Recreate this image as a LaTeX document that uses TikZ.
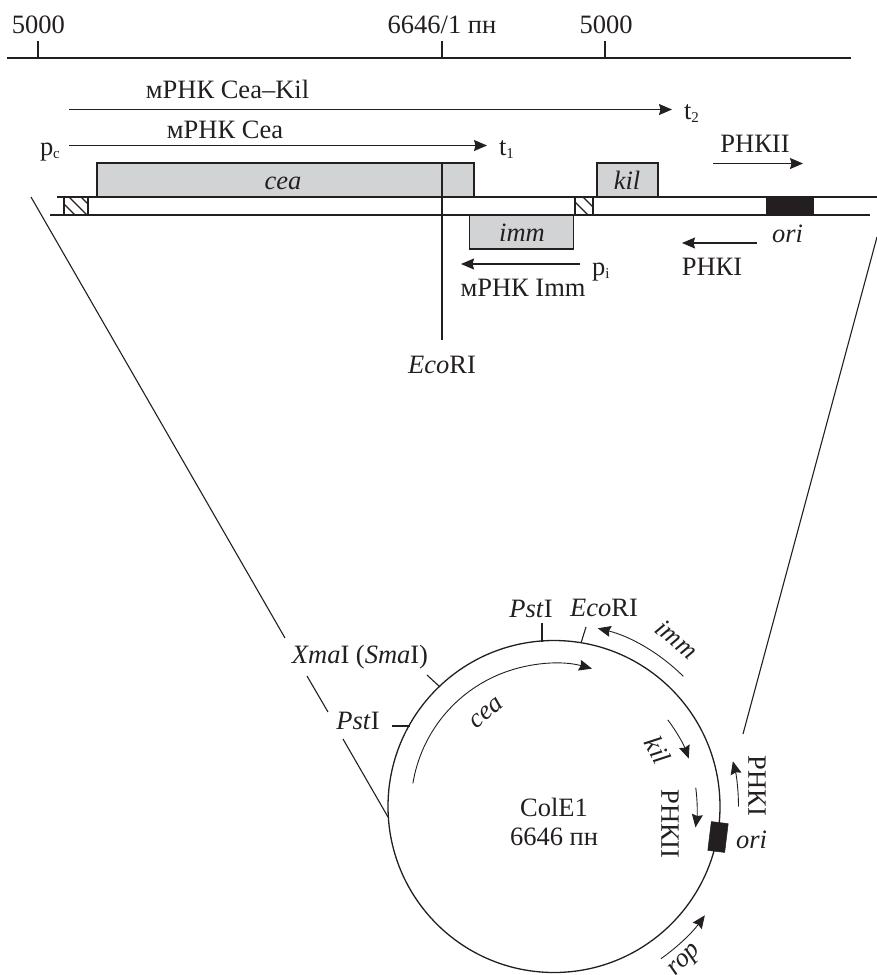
\documentclass[tikz,border=0pt]{standalone}
\usepackage{fontspec}
\setmainfont{Liberation Serif}
\usetikzlibrary{arrows.meta}
\definecolor{ink}{HTML}{231F20}
\definecolor{genegray}{HTML}{D1D3D4}
\newcommand{\lowsub}[1]{\raisebox{-3.5pt}{\fontsize{15}{15}\selectfont #1}}
\tikzset{
  lbl/.style={inner sep=0pt,outer sep=0pt,text=ink,font=\fontsize{26.5}{28}\selectfont,anchor=base},
  lblw/.style={lbl,anchor=base west},
  rlbl/.style={lbl,anchor=center},
  thin line/.style={draw=ink,line width=1.1pt},
  dna/.style={draw=ink,line width=1.5pt},
  arrowline/.style={thin line,-{Stealth[length=13pt,width=11pt,inset=1.5pt]}},
  arcline/.style={arrowline,line width=.9pt},
  genebox/.style={draw=ink,line width=1.3pt,fill=genegray,inner sep=0pt,outer sep=0pt},
  blackbox/.style={draw=ink,fill=ink,inner sep=0pt,outer sep=0pt,line width=.5pt},
  hatchbox/.style={draw=ink,line width=1.1pt,inner sep=0pt,outer sep=0pt,minimum width=#1,minimum height=18pt},
}
\begin{document}
\begin{tikzpicture}[x=1pt,y=-1pt]
\useasboundingbox (0,0) rectangle (877,975);
% scale
\coordinate (sL) at (7,58); \coordinate (sR) at (851,58);
\draw[dna] (sL) -- (sR);
\coordinate (a1) at (38,41); \coordinate (a1b) at (38,58);
\coordinate (a2) at (442,41); \coordinate (a2b) at (442,58);
\coordinate (a3) at (605,41); \coordinate (a3b) at (605,58);
\draw[thin line] (a1) -- (a1b); \draw[thin line] (a2) -- (a2b); \draw[thin line] (a3) -- (a3b);
\node[lbl] (n1) at (38.5,33) {5000};
\node[lbl] (n2) at (442,33) {6646/1 пн};
\node[lbl] (n3) at (606,33) {5000};
% transcripts
\coordinate (ck1) at (69,109.5); \coordinate (ck2) at (672,109.5);
\draw[arrowline] (ck1) -- (ck2);
\node[lbl] (ckl) at (227.5,98) {мРНК Cea–Kil};
\node[lblw] (t2) at (684,119) {t\lowsub{2}};
\coordinate (c1) at (69,145.5); \coordinate (c2) at (487,145.5);
\draw[arrowline] (c1) -- (c2);
\node[lbl] (cl) at (225,138) {мРНК Cea};
\node[lblw] (t1) at (499,155) {t\lowsub{1}};
\node[lblw] (pc) at (40,155) {p\lowsub{c}};
% genes
\node[genebox,minimum width=377pt,minimum height=34pt] (cea) at (285.5,180) {};
\node[lbl] (cean) at (283,189) {\textit{cea}};
\node[genebox,minimum width=61pt,minimum height=34pt] (kil) at (627.5,180) {};
\node[lbl] (kiln) at (627,189) {\textit{kil}};
\node[genebox,minimum width=104pt,minimum height=34pt] (imm) at (521.5,232) {};
\node[lbl] (immn) at (522,241) {\textit{imm}};
% DNA
\coordinate (d1) at (57,197); \coordinate (d2) at (877,197);
\coordinate (d3) at (50,215); \coordinate (d4) at (870,215);
\draw[dna] (d1) -- (d2);
\draw[dna] (d3) -- (d4);
\node[hatchbox=24pt,path picture={\foreach \d in {-7,5,17}{\draw[ink,line width=1.1pt] (path picture bounding box.north west) ++(\d,0) -- ++(30,30);}}] (h1) at (76,206) {};
\node[hatchbox=18pt,path picture={\foreach \d in {-5,8}{\draw[ink,line width=1.1pt] (path picture bounding box.north west) ++(\d,0) -- ++(30,30);}}] (h2) at (584,206) {};
\node[blackbox,minimum width=47pt,minimum height=19pt] (orib) at (790,206) {};
% EcoRI
\coordinate (e1) at (442,163); \coordinate (e2) at (442,340);
\draw[thin line] (e1) -- (e2);
\node[lbl] (ecol) at (442,373) {\textit{Eco}RI};
% imm transcript
\coordinate (i1) at (580,264); \coordinate (i2) at (461,264);
\draw[arrowline] (i1) -- (i2);
\node[lblw] (pi) at (592,275) {p\lowsub{i}};
\node[lbl] (il) at (523,296) {мРНК Imm};
% RNA I, II
\coordinate (r21) at (713,163.5); \coordinate (r22) at (803,163.5);
\draw[arrowline] (r21) -- (r22);
\node[lbl] (r2l) at (755,152) {РНКII};
\coordinate (r11) at (757,243); \coordinate (r12) at (682,243);
\draw[arrowline] (r11) -- (r12);
\node[lbl] (r1l) at (712,275) {РНКI};
\node[lblw] (oril) at (772,242) {\textit{ori}};
% zoom lines
\coordinate (l1) at (31,197); \coordinate (l2) at (285,638);
\coordinate (l3) at (307,676); \coordinate (l4) at (328,712);
\coordinate (l5) at (343,739); \coordinate (l6) at (388,817);
\draw[thin line] (l1) -- (l2); \draw[thin line] (l3) -- (l4); \draw[thin line] (l5) -- (l6);
\coordinate (rz1) at (877,237); \coordinate (rz2) at (743,734);
\draw[thin line] (rz1) -- (rz2);
% plasmid
\node[circle,draw=ink,line width=1.3pt,minimum size=332pt,inner sep=0pt,outer sep=0pt] (plasmid) at (554,806.5) {};
\node[blackbox,minimum width=17pt,minimum height=29pt,rotate=-7] (orip) at (718,837) {};
\node[lbl] (col) at (554,816) {ColE1};
\node[lbl] (size) at (554,845) {6646 пн};
% sites
\coordinate (s1a) at (542,623); \coordinate (s1b) at (542,642);
\coordinate (s2a) at (586,627); \coordinate (s2b) at (581,643);
\coordinate (s3a) at (427,675); \coordinate (s3b) at (440,687);
\coordinate (s4a) at (392,726); \coordinate (s4b) at (410,726);
\draw[thin line] (s1a) -- (s1b); \draw[thin line] (s2a) -- (s2b);
\draw[thin line] (s3a) -- (s3b); \draw[thin line] (s4a) -- (s4b);
\node[lbl] (s1) at (531,617) {\textit{Pst}I};
\node[lbl] (s2) at (604,616) {\textit{Eco}RI};
\node[lbl] (s3) at (360,663) {\textit{Xma}I (\textit{Sma}I)};
\node[lbl] (s4) at (358,729) {\textit{Pst}I};
% arcs
\draw[arcline] (plasmid.center) ++(-170.7:143) arc[start angle=-170.7,end angle=-74.6,radius=143];
\draw[arcline] (plasmid.center) ++(-45.2:183.5) arc[start angle=-45.2,end angle=-76.2,radius=183.5];
\draw[arcline] (plasmid.center) ++(-37.3:143) arc[start angle=-37.3,end angle=-19.6,radius=143];
\draw[arcline] (plasmid.center) ++(-7.6:143) arc[start angle=-7.6,end angle=8.4,radius=143];
\draw[arcline] (plasmid.center) ++(0:184.5) arc[start angle=0,end angle=-14.2,radius=184.5];
\draw[arcline] (plasmid.center) ++(54.9:186) arc[start angle=54.9,end angle=35.8,radius=186];
% arc labels
\node[rlbl,rotate=40] (ceac) at (487,713) {\textit{cea}};
\node[rlbl,rotate=-40] (immc) at (677,639) {\textit{imm}};
\node[rlbl,rotate=-62] (kilc) at (658,750) {\textit{kil}};
\node[rlbl,rotate=-90] (r2c) at (670,824) {РНКII};
\node[rlbl,rotate=-90] (r1c) at (757,786) {РНКI};
\node[lblw] (oric) at (736,848) {\textit{ori}};
\node[rlbl,rotate=45] (ropc) at (686,961) {\textit{rop}};
\end{tikzpicture}
\end{document}
